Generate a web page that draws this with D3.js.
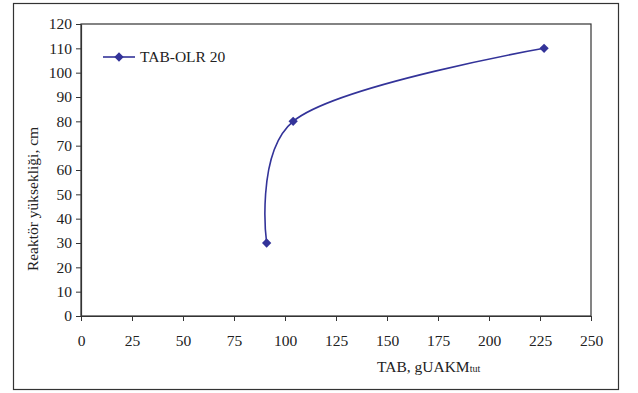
<!DOCTYPE html>
<html>
<head>
<meta charset="utf-8">
<script src="https://cdn.jsdelivr.net/npm/d3@7"></script>
<style>
  body { margin: 0; background: #fff; }
  text { font-family: "Liberation Serif", "Times New Roman", serif; fill: #222; }
  .axis path, .axis line { stroke: #333; }
</style>
</head>
<body>
<svg id="chart" width="638" height="393"></svg>
<script>
const seriesName = 'TAB-OLR 20';
const tabValues = [91, 104, 227];
const heightValues = [30, 80, 110];
const xTicks = [0, 25, 50, 75, 100, 125, 150, 175, 200, 225, 250];
const yTicks = [0, 10, 20, 30, 40, 50, 60, 70, 80, 90, 100, 110, 120];

const LINE_COLOR = '#333399';
const plot = { left: 81, top: 24, right: 591, bottom: 316 };

const svg = d3.select('#chart');

// outer frame
svg.append('rect')
  .attr('x', 13.5)
  .attr('y', 3.5)
  .attr('width', 605)
  .attr('height', 386)
  .attr('fill', 'none')
  .attr('stroke', '#333')
  .attr('stroke-width', 1.2);

const x = d3.scaleLinear().domain([0, 250]).range([plot.left, plot.right]);
const y = d3.scaleLinear().domain([0, 120]).range([plot.bottom, plot.top]);

// plot border (right/top)
svg.append('rect')
  .attr('x', plot.left)
  .attr('y', plot.top)
  .attr('width', plot.right - plot.left)
  .attr('height', plot.bottom - plot.top)
  .attr('fill', 'none')
  .attr('stroke', '#333')
  .attr('stroke-width', 1.2);

const xAxis = svg.append('g')
  .attr('class', 'axis')
  .attr('transform', `translate(0,${plot.bottom})`)
  .call(d3.axisBottom(x).tickValues(xTicks).tickSize(5).tickPadding(14).tickSizeOuter(0));
xAxis.selectAll('text').style('font-size', '15.5px').attr('fill', '#222');

const yAxis = svg.append('g')
  .attr('class', 'axis')
  .attr('transform', `translate(${plot.left},0)`)
  .call(d3.axisLeft(y).tickValues(yTicks).tickSize(5).tickPadding(4).tickSizeOuter(0));
yAxis.selectAll('text').style('font-size', '15.5px').attr('fill', '#222');
svg.selectAll('.axis path').attr('stroke-width', 1.2);

// axis titles
svg.append('text')
  .attr('transform', 'translate(38,199) rotate(-90)')
  .attr('text-anchor', 'middle')
  .style('font-size', '15.5px')
  .text('Reaktör yüksekliği, cm');

const xTitle = svg.append('text')
  .attr('x', 377)
  .attr('y', 372)
  .style('font-size', '15.5px');
xTitle.append('tspan').text('TAB, gUAKM');
xTitle.append('tspan').style('font-size', '10px').text('tut');

// series
const points = tabValues.map((v, i) => ({ x: v, y: heightValues[i] }));

const line = d3.line()
  .x((d) => x(d.x))
  .y((d) => y(d.y))
  .curve(d3.curveCatmullRom.alpha(0.2));

svg.append('path')
  .datum(points)
  .attr('d', line)
  .attr('fill', 'none')
  .attr('stroke', LINE_COLOR)
  .attr('stroke-width', 1.6);

const diamond = d3.symbol().type(d3.symbolDiamond2).size(55);

svg.append('g')
  .selectAll('path')
  .data(points)
  .enter()
    .append('path')
    .attr('d', diamond)
    .attr('fill', LINE_COLOR)
    .attr('transform', (d) => `translate(${x(d.x)},${y(d.y)})`);

// legend
const legend = svg.append('g');
legend.append('line')
  .attr('x1', 103)
  .attr('x2', 135)
  .attr('y1', 57)
  .attr('y2', 57)
  .attr('stroke', LINE_COLOR)
  .attr('stroke-width', 1.6);
legend.append('path')
  .attr('d', diamond)
  .attr('fill', LINE_COLOR)
  .attr('transform', 'translate(119,57)');
legend.append('text')
  .attr('x', 140)
  .attr('y', 62)
  .style('font-size', '15.5px')
  .text(seriesName);
</script>
</body>
</html>
